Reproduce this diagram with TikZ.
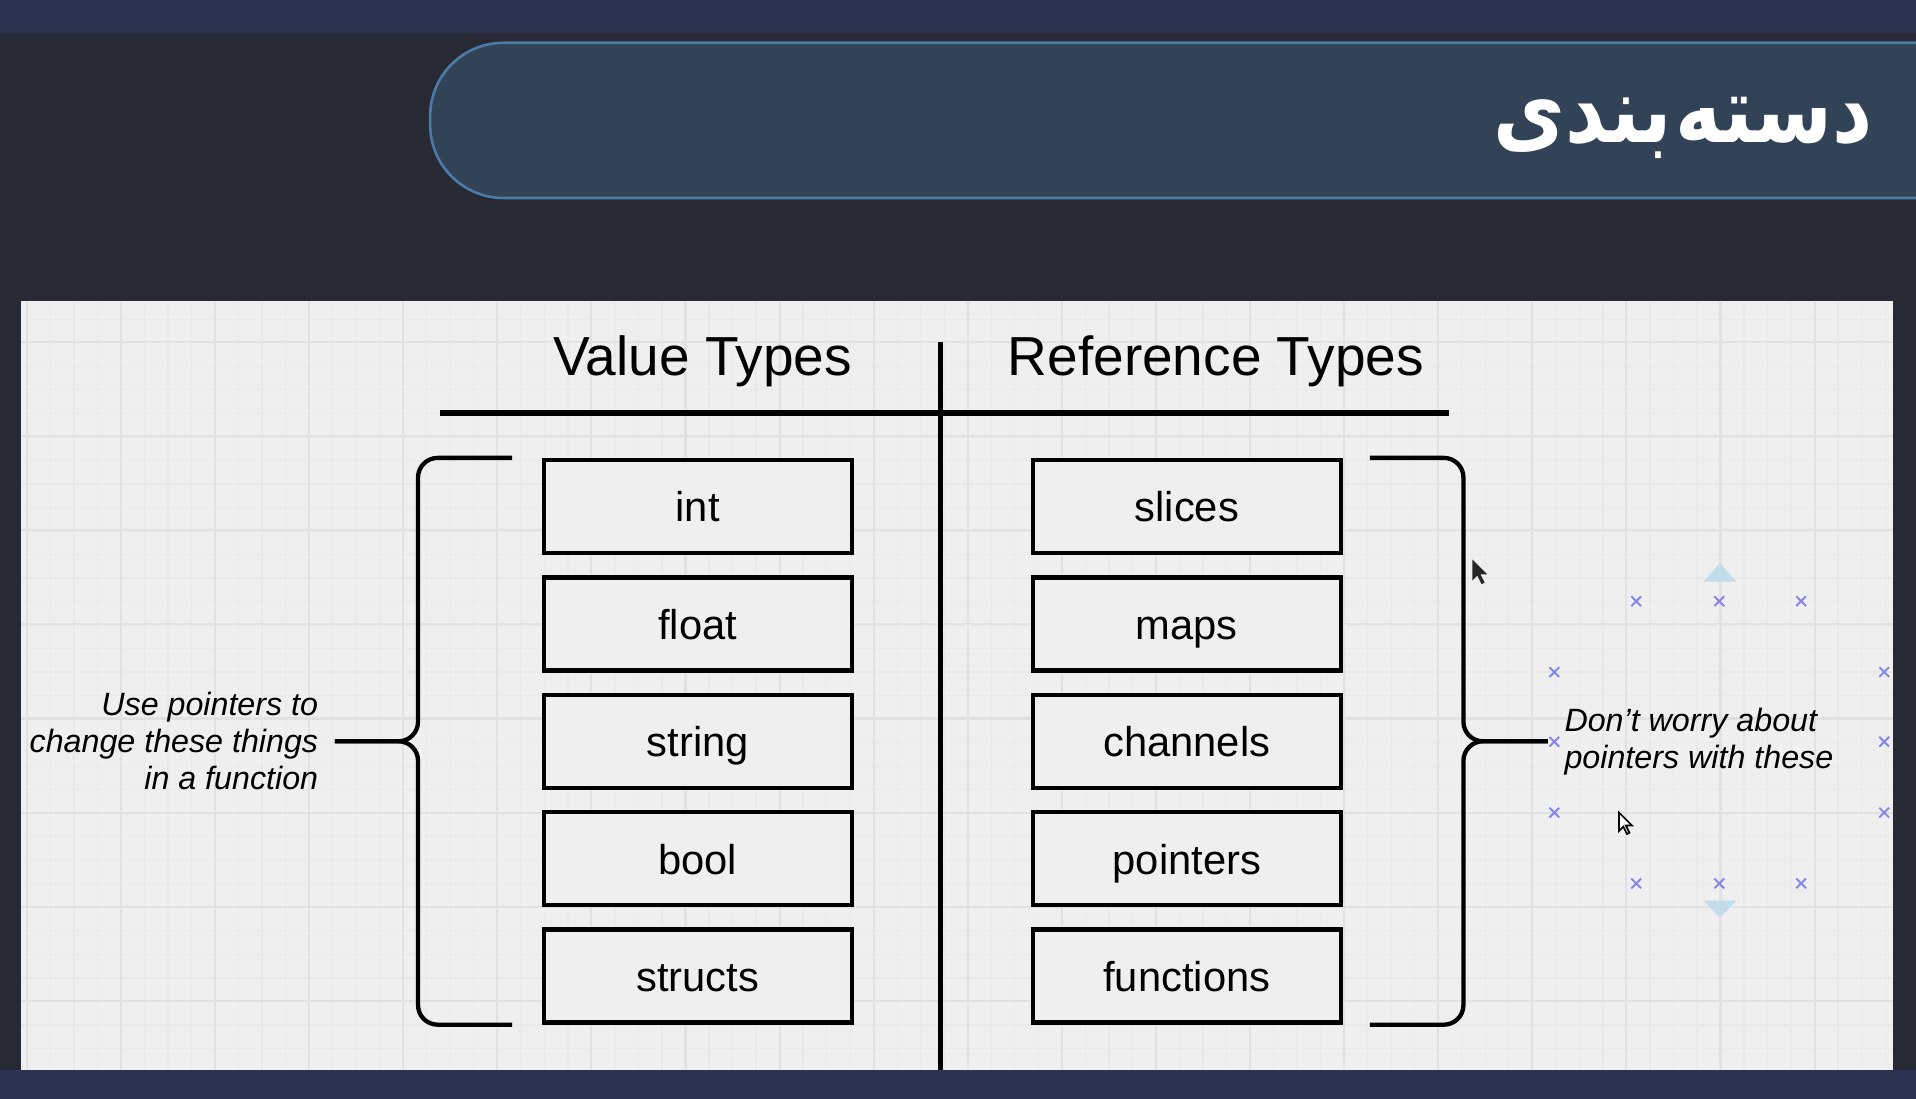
\documentclass[tikz,border=0pt]{standalone}
\usepackage{fontspec}
\setmainfont{Liberation Sans}
\newfontfamily\persianfont[Script=Arabic]{DejaVu Sans}
\TeXXeTstate=1
\usetikzlibrary{positioning, calc}

\definecolor{bandblue}{HTML}{2B3552}
\definecolor{pagedark}{HTML}{272A35}
\definecolor{headfill}{HTML}{334357}
\definecolor{headline}{HTML}{4C7BA8}
\definecolor{boardgray}{HTML}{EFEFEF}
\definecolor{gridmajor}{HTML}{E1E1E1}
\definecolor{gridminor}{HTML}{E9E9E9}
\definecolor{handleblue}{HTML}{8585E8}
\definecolor{arrowblue}{HTML}{C3DCEA}

\tikzset{
  typebox/.style={draw=black, line width=1pt, fill=boardgray, minimum width=2.52cm, minimum height=0.76cm, inner sep=0pt, text height=0.72em, text depth=0pt, font=\fontsize{9.7}{11}\selectfont},
  colhead/.style={anchor=base, inner sep=0pt, font=\fontsize{12.8}{15}\selectfont},
  notetext/.style={inner sep=0.13cm, font=\fontsize{7.5}{8.6}\selectfont\itshape},
  bracket/.style={line width=1pt, rounded corners=0.16cm},
  handle/.style={handleblue, line width=0.45pt},
}

\begin{document}
\begin{tikzpicture}[x=0.01cm, y=-0.01cm]
\useasboundingbox (0,0) rectangle (1568,899);
\clip (0,0) rectangle (1568,899);
\fill[pagedark] (0,0) rectangle (1568,899);
\fill[bandblue] (0,0) rectangle (1568,27);
\fill[bandblue] (0,876) rectangle (1568,899);

\draw[headline, fill=headfill, line width=0.6pt, rounded corners=0.6cm] (1600,35) -- (352,35) -- (352,162) -- (1600,162);
\node[anchor=base east, inner sep=0pt, text=white, font=\persianfont\bfseries\fontsize{20}{24}\selectfont] (pagetitle) at (1533,117) {\scalebox{0.91}[1.08]{\beginR دسته\hspace{0.05em}بندی\endR}};

\fill[boardgray] (17,246) rectangle (1549,876);
\foreach \gx in {22,41.25,...,1549} \draw[gridminor, line width=0.3pt] (\gx,246) -- (\gx,876);
\foreach \gy in {261.25,280.5,...,876} \draw[gridminor, line width=0.3pt] (17,\gy) -- (1549,\gy);
\foreach \gx in {22,99,...,1549} \draw[gridmajor, line width=0.5pt] (\gx,246) -- (\gx,876);
\foreach \gy in {280,357,...,876} \draw[gridmajor, line width=0.5pt] (17,\gy) -- (1549,\gy);

\node[colhead] (valuehead) at (575,307) {Value Types};
\node[colhead] (refhead) at (995,307) {Reference Types};
\draw[line width=1.4pt] (360,338) -- (1186,338);
\draw[line width=1.15pt] (770,280) -- (770,876);

\node[typebox] (int) at (571,414.5) {int};
\node[typebox, below=0.165cm of int] (float) {float};
\node[typebox, below=0.165cm of float] (string) {string};
\node[typebox, below=0.165cm of string] (bool) {bool};
\node[typebox, below=0.165cm of bool] (structs) {structs};

\node[typebox, right=1.445cm of int] (slices) {slices};
\node[typebox, below=0.165cm of slices] (maps) {maps};
\node[typebox, below=0.165cm of maps] (channels) {channels};
\node[typebox, below=0.165cm of channels] (pointers) {pointers};
\node[typebox, below=0.165cm of pointers] (functions) {functions};

\node[notetext, align=right, anchor=east] (usetext) at ($(string.west)+(-1.69cm,0)$) {Use pointers to\\change these things\\in a function};
\node[notetext, align=left, anchor=west] (worrytext) at ($(channels.east)+(1.675cm,0)$) {Don't worry about\\pointers with these};

\draw[bracket] ($(int.north west)+(-0.24cm,0)$) -| ($(string.west)+(-1.01cm,0)$) -- (usetext.east);
\draw[bracket] ($(structs.south west)+(-0.24cm,0)$) -| ($(string.west)+(-1.01cm,0)$) -- (usetext.east);
\draw[bracket] ($(slices.north east)+(0.22cm,0)$) -| ($(channels.east)+(0.985cm,0)$) -- (worrytext.west);
\draw[bracket] ($(functions.south east)+(0.22cm,0)$) -| ($(channels.east)+(0.985cm,0)$) -- (worrytext.west);

\foreach \hx/\hy in {1339/492, 1407/492, 1474/492, 1272/550, 1542/550, 1272/607, 1542/607, 1272/665, 1542/665, 1339/723, 1407/723, 1474/723}
  \draw[handle] (\hx-4,\hy-4) -- (\hx+4,\hy+4) (\hx-4,\hy+4) -- (\hx+4,\hy-4);
\fill[arrowblue] (1394,476) -- (1421,476) -- (1407.5,461) -- cycle;
\fill[arrowblue] (1394,737) -- (1421,737) -- (1407.5,751) -- cycle;

\fill[black!85] (1205,458) -- ++(0,17) -- ++(4,-4) -- ++(3.5,7) -- ++(2.5,-1.2) -- ++(-3.5,-6.8) -- ++(5.5,0) -- cycle;
\draw[black, fill=white, line width=0.4pt] (1325,665) -- ++(0,15) -- ++(3.5,-3.5) -- ++(3,6) -- ++(2,-1) -- ++(-3,-6) -- ++(5,0) -- cycle;
\end{tikzpicture}
\end{document}
